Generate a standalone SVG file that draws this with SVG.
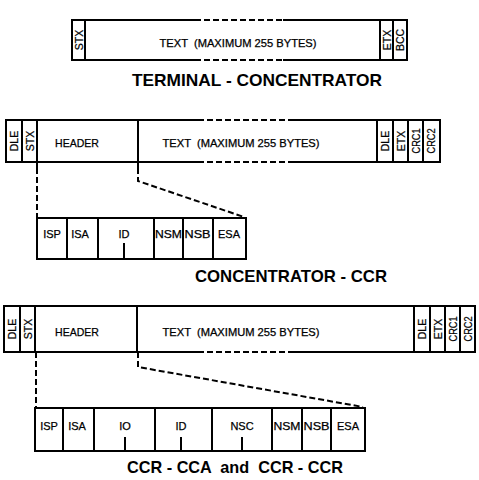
<svg xmlns="http://www.w3.org/2000/svg" width="479" height="480" viewBox="0 0 479 480">
<style>
.box{fill:none;stroke:#000;stroke-width:2}
.ln{stroke:#000;stroke-width:2;fill:none}
.dash{stroke:#000;stroke-width:2;fill:none;stroke-dasharray:6 3}
.t{font-family:"Liberation Sans",Arial,sans-serif;font-size:10.5px;fill:#000;stroke:#000;stroke-width:0.25;text-anchor:middle;white-space:pre}
.v{font-family:"Liberation Sans",Arial,sans-serif;font-size:10.5px;fill:#000;stroke:#000;stroke-width:0.25;text-anchor:middle}
.f{font-family:"Liberation Sans",Arial,sans-serif;font-size:11px;fill:#000;stroke:#000;stroke-width:0.25;text-anchor:middle}
.ttl{font-family:"Liberation Sans",Arial,sans-serif;font-size:17px;font-weight:bold;fill:#000;text-anchor:middle;white-space:pre}
</style>
<rect width="479" height="480" fill="#fff"/>

<g id="frame-terminal">
  <path class="ln" d="M195 20 H72 V60 H195 M283 20 H407 V60 H283"/>
  <path class="dash" d="M195 20 H283 M195 60 H283"/>
  <path class="ln" d="M85 20 V60 M380 20 V60 M393 20 V60"/>
  <text class="v" transform="translate(82.5 40) rotate(-90)">STX</text>
  <text class="t" x="238" y="47" textLength="157" lengthAdjust="spacingAndGlyphs">TEXT  (MAXIMUM 255 BYTES)</text>
  <text class="v" transform="translate(390.5 40) rotate(-90)">ETX</text>
  <text class="v" transform="translate(404 40) rotate(-90)">BCC</text>
  <text class="ttl" x="257" y="86" textLength="250" lengthAdjust="spacingAndGlyphs">TERMINAL - CONCENTRATOR</text>
</g>

<g id="frame-concentrator">
  <path class="ln" d="M198 120 H6 V162 H198 M288 120 H440 V162 H288"/>
  <path class="dash" d="M198 120 H288 M198 162 H288"/>
  <path class="ln" d="M22 120 V162 M37 120 V168 M138 120 V168 M377 120 V162 M393 120 V162 M408 120 V162 M423 120 V162"/>
  <text class="v" transform="translate(18 141) rotate(-90)">DLE</text>
  <text class="v" transform="translate(33.5 141) rotate(-90)">STX</text>
  <text class="t" x="77" y="147">HEADER</text>
  <text class="t" x="241" y="147" textLength="157" lengthAdjust="spacingAndGlyphs">TEXT  (MAXIMUM 255 BYTES)</text>
  <text class="v" transform="translate(389 141) rotate(-90)">DLE</text>
  <text class="v" transform="translate(404.5 141) rotate(-90)">ETX</text>
  <text class="v" transform="translate(419.5 141) rotate(-90)" textLength="25" lengthAdjust="spacingAndGlyphs">CRC1</text>
  <text class="v" transform="translate(435 141) rotate(-90)" textLength="25" lengthAdjust="spacingAndGlyphs">CRC2</text>
</g>

<g id="header-concentrator">
  <rect class="box" x="37" y="218" width="209" height="41"/>
  <path class="ln" d="M67 218 V259 M98 218 V259 M154 218 V259 M183 218 V259 M213 218 V259 M124 243 V259"/>
  <text class="f" x="52" y="238">ISP</text>
  <text class="f" x="80" y="238">ISA</text>
  <text class="f" x="124" y="238">ID</text>
  <text class="f" x="168.5" y="238" textLength="27" lengthAdjust="spacingAndGlyphs">NSM</text>
  <text class="f" x="197.5" y="238" textLength="26" lengthAdjust="spacingAndGlyphs">NSB</text>
  <text class="f" x="229" y="238">ESA</text>
  <text class="ttl" x="291" y="282" textLength="192" lengthAdjust="spacingAndGlyphs">CONCENTRATOR - CCR</text>
</g>

<g id="frame-ccr">
  <path class="ln" d="M198 352 H4 V306 H475 V352 H288"/>
  <path class="dash" d="M198 352 H288"/>
  <path class="ln" d="M20 306 V352 M35 306 V352 M137 306 V352 M414 306 V352 M430 306 V352 M445 306 V352 M460 306 V352"/>
  <text class="v" transform="translate(16 329) rotate(-90)">DLE</text>
  <text class="v" transform="translate(31.5 329) rotate(-90)">STX</text>
  <text class="t" x="77" y="336">HEADER</text>
  <text class="t" x="241" y="336" textLength="157" lengthAdjust="spacingAndGlyphs">TEXT  (MAXIMUM 255 BYTES)</text>
  <text class="v" transform="translate(426 329) rotate(-90)">DLE</text>
  <text class="v" transform="translate(441.5 329) rotate(-90)">ETX</text>
  <text class="v" transform="translate(456.5 329) rotate(-90)" textLength="25" lengthAdjust="spacingAndGlyphs">CRC1</text>
  <text class="v" transform="translate(471.5 329) rotate(-90)" textLength="25" lengthAdjust="spacingAndGlyphs">CRC2</text>
</g>

<g id="header-ccr">
  <rect class="box" x="35" y="408" width="330" height="43"/>
  <path class="ln" d="M63 408 V451 M94 408 V451 M155 408 V451 M212 408 V451 M272 408 V451 M302 408 V451 M331 408 V451 M125 437 V451 M181 437 V451 M242 437 V451"/>
  <text class="f" x="49" y="430">ISP</text>
  <text class="f" x="77" y="430">ISA</text>
  <text class="f" x="125" y="430">IO</text>
  <text class="f" x="181" y="430">ID</text>
  <text class="f" x="242" y="430">NSC</text>
  <text class="f" x="287" y="430" textLength="27" lengthAdjust="spacingAndGlyphs">NSM</text>
  <text class="f" x="316.5" y="430" textLength="26" lengthAdjust="spacingAndGlyphs">NSB</text>
  <text class="f" x="348" y="430">ESA</text>
  <text class="ttl" x="235" y="473" textLength="216" lengthAdjust="spacingAndGlyphs">CCR - CCA  and  CCR - CCR</text>
</g>

<g id="connectors">
  <path class="dash" d="M37 168 V218"/>
  <path class="dash" d="M138 168 V181 L244 217"/>
  <path class="dash" d="M36 352 V408"/>
  <path class="dash" d="M138 352 V367 L363 407"/>
</g>
</svg>
